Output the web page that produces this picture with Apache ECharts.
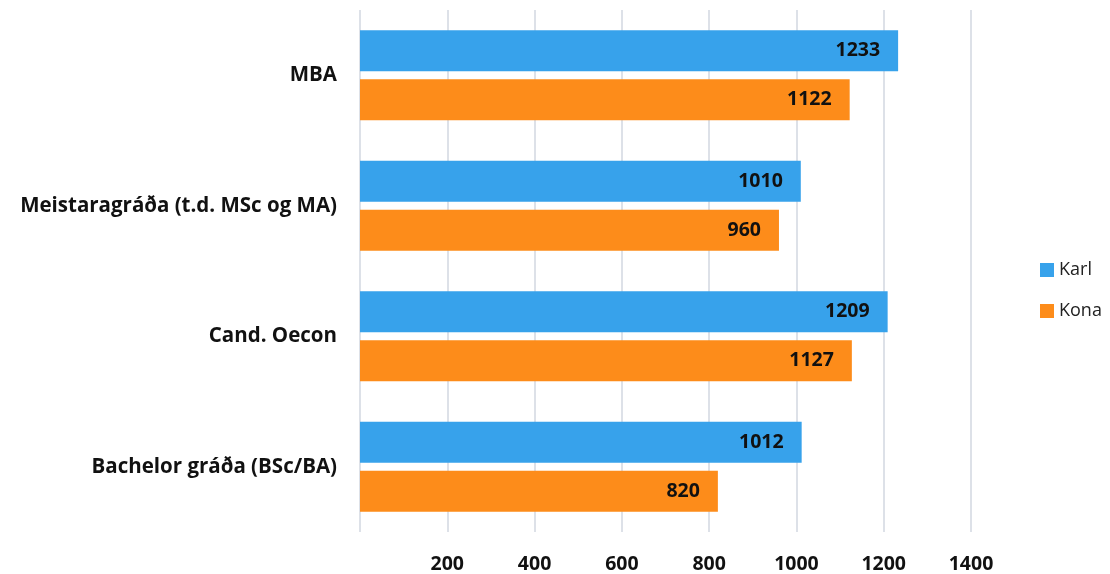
<!DOCTYPE html>
<html>
<head>
<meta charset="utf-8">
<script src="https://cdn.jsdelivr.net/npm/echarts@6/dist/echarts.min.js"></script>
<style>
  html, body { margin: 0; padding: 0; background: #fff; }
  #chart { width: 1110px; height: 574px; }
</style>
</head>
<body>
<div id="chart"></div>
<script>
const categories = ['MBA', 'Meistaragráða (t.d. MSc og MA)', 'Cand. Oecon', 'Bachelor gráða (BSc/BA)']
const karl = [1233, 1010, 1209, 1012]
const kona = [1122, 960, 1127, 820]
const seriesNames = ['Karl', 'Kona']

const font = '"Open Sans", sans-serif'
const chart = echarts.init(document.getElementById('chart'))

const barLabel = {
  show: true,
  position: 'insideRight',
  distance: 18,
  color: '#111',
  fontFamily: font,
  fontWeight: 'bold',
  fontSize: 19.5
}

chart.setOption({
  animation: false,
  grid: { left: 360, right: 139, top: 10, bottom: 40, containLabel: false },
  legend: {
    orient: 'vertical',
    left: 1035,
    top: 256,
    itemWidth: 14,
    itemHeight: 14,
    itemGap: 23,
    icon: 'rect',
    textStyle: { fontFamily: font, fontSize: 18, color: '#222' },
    data: seriesNames
  },
  xAxis: {
    type: 'value',
    min: 0,
    max: 1400,
    interval: 200,
    axisLine: { show: false },
    axisTick: { show: false },
    splitLine: { lineStyle: { color: '#dde1e8', width: 2 } },
    axisLabel: {
      formatter: v => (v === 0 ? '' : v),
      margin: 22,
      color: '#111',
      fontFamily: font,
      fontWeight: 'bold',
      fontSize: 19.5
    }
  },
  yAxis: {
    type: 'category',
    inverse: true,
    data: categories,
    axisLine: { show: false },
    axisTick: { show: false },
    axisLabel: {
      margin: 23,
      color: '#111',
      fontFamily: font,
      fontWeight: 'bold',
      fontSize: 20.5
    }
  },
  series: [
    {
      name: seriesNames[0],
      type: 'bar',
      data: karl,
      barWidth: 41,
      barGap: '20%',
      itemStyle: { color: '#37a2eb' },
      label: barLabel
    },
    {
      name: seriesNames[1],
      type: 'bar',
      data: kona,
      barWidth: 41,
      barGap: '20%',
      itemStyle: { color: '#fd8c1a' },
      label: barLabel
    }
  ]
})
</script>
</body>
</html>
